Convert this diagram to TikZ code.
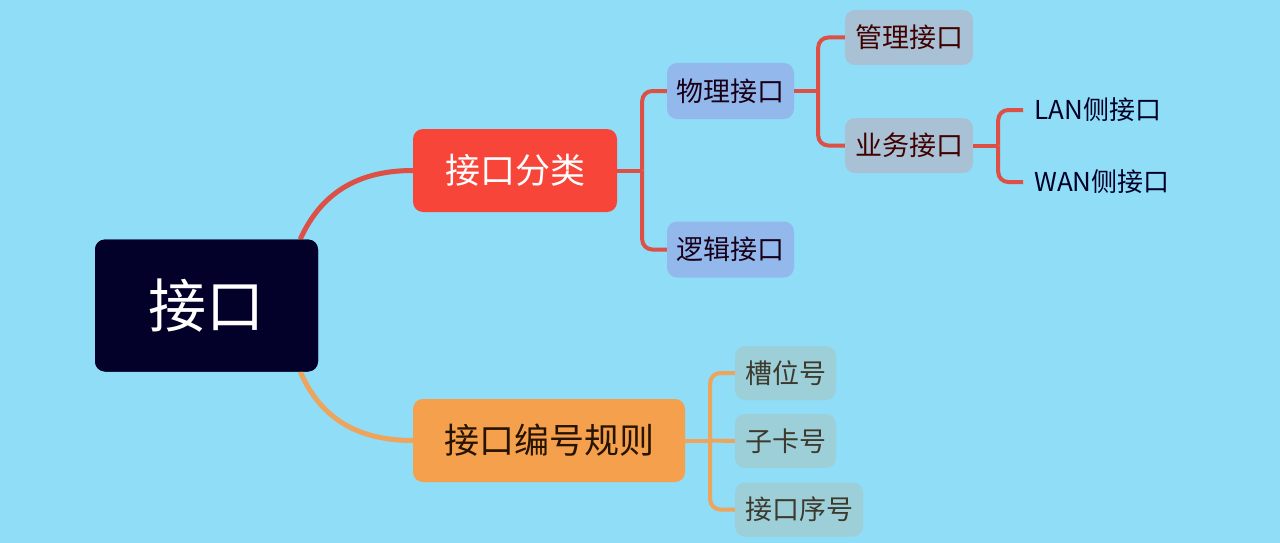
\documentclass[tikz,border=0pt]{standalone}
\usepackage{fontspec}
\setmainfont{Noto Sans CJK SC}
\usetikzlibrary{calc}
\definecolor{bg}{HTML}{8FDDF7}
\definecolor{rootc}{HTML}{03012A}
\definecolor{redc}{HTML}{F8453A}
\definecolor{orc}{HTML}{F5A04C}
\definecolor{bluec}{HTML}{93B9EC}
\definecolor{greyc}{HTML}{A8C1D4}
\definecolor{tealc}{HTML}{9DCFD9}
\definecolor{redl}{HTML}{DD5046}
\definecolor{orl}{HTML}{EDA45C}
\tikzset{
  box/.style={rounded corners=10pt, inner sep=0pt, align=center},
  rootbox/.style={box, fill=rootc, text=white, minimum width=223pt, minimum height=132pt, font=\fontsize{58}{62}\selectfont},
  l1red/.style={box, fill=redc, text=white, minimum width=204pt, minimum height=83pt, font=\fontsize{35}{40}\selectfont},
  l1or/.style={box, fill=orc, text=black!85!orange, minimum width=272pt, minimum height=83pt, font=\fontsize{35}{40}\selectfont},
  l2blue/.style={box, fill=bluec, text=black!80!violet, minimum width=127pt, minimum height=56pt, font=\fontsize{27}{30}\selectfont},
  l3grey/.style={box, fill=greyc, text=black!75!red, minimum width=128pt, minimum height=55pt, font=\fontsize{27}{30}\selectfont},
  tealbox/.style={box, fill=tealc, text=black!75!olive, minimum height=54pt, font=\fontsize{27}{30}\selectfont},
  leaf/.style={anchor=west, inner xsep=11pt, inner ysep=0pt, text=black!85!blue, font=\fontsize{26}{29}\selectfont},
  redcon/.style={draw=redl, line width=4pt, rounded corners=10pt},
  orcon/.style={draw=orl, line width=4pt, rounded corners=10pt},
}
\begin{document}
\begin{tikzpicture}[x=1pt,y=-1pt]
\fill[bg] (0,0) rectangle (1280,543);
\useasboundingbox (0,0) rectangle (1280,543);

% root connectors
\node[rootbox] (root) at (206.5,305.5) {接口};
\node[l1red] (cls) at (515,170.5) {接口分类};
\node[l1or] (num) at (549,440.5) {接口编号规则};

\coordinate (rs1) at ($(root.north east)+(-18pt,0)$);
\coordinate (rs2) at ($(root.south east)+(-18pt,0)$);
\draw[draw=redl, line width=5pt] (rs1) .. controls (318,200) and (350,170.5) .. (cls.west);
\draw[draw=orl, line width=5pt] (rs2) .. controls (318,412) and (350,440.5) .. (num.west);
% redraw root on top
\node[rootbox] at (206.5,305.5) {接口};

% level 2 under 接口分类
\node[l2blue] (phys) at (730.5,91) {物理接口};
\node[l2blue] (logic) at (730.5,249.5) {逻辑接口};
\draw[redcon] (cls.east) -- ++(25,0) coordinate (j1);
\draw[redcon] (j1) |- (phys.west);
\draw[redcon] (j1) |- (logic.west);

% level 3 under 物理接口
\node[l3grey] (mgmt) at (909,37.5) {管理接口};
\node[l3grey] (biz) at (909,145.5) {业务接口};
\draw[redcon] (phys.east) -- ++(24,0) coordinate (j2);
\draw[redcon] (j2) |- (mgmt.west);
\draw[redcon] (j2) |- (biz.west);

% level 4 under 业务接口
\node[leaf] (lan) at (1023,110) {LAN侧接口};
\node[leaf] (wan) at (1023,182) {WAN侧接口};
\draw[redcon] (biz.east) -- ++(25,0) coordinate (j3);
\draw[redcon] (j3) |- (lan.west);
\draw[redcon] (j3) |- (wan.west);

% children of 接口编号规则
\node[tealbox, minimum width=101pt] (slot) at (785.5,373) {槽位号};
\node[tealbox, minimum width=101pt] (sub) at (785.5,441) {子卡号};
\node[tealbox, minimum width=128pt] (port) at (799,509.5) {接口序号};
\draw[orcon] (num.east) -- ++(25,0) coordinate (j4);
\draw[orcon] (j4) |- (slot.west);
\draw[orcon] (j4) -- (sub.west);
\draw[orcon] (j4) |- (port.west);
\end{tikzpicture}
\end{document}
